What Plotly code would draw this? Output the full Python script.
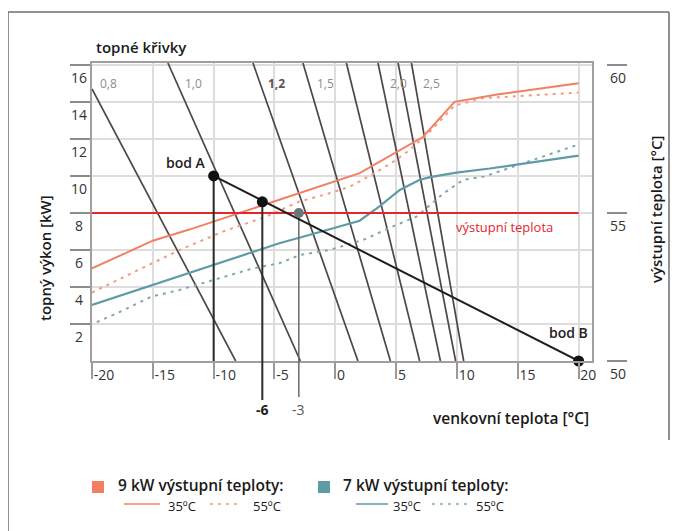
import plotly.graph_objects as go

# ---------------- data ----------------
x_ticks = [-20, -15, -10, -5, 0, 5, 10, 15, 20]
x_ticktext = ["-20", "-15", "-10", "-5", "0", "5", "10", "15", "20"]
y_ticks = [2, 4, 6, 8, 10, 12, 14, 16]
y2_ticks = [50, 55, 60]

# heating curves (topné křivky): straight lines from a top point to the x-axis
curve_labels = ["0,8", "1,0", "1,2", "1,5", "", "2,0", "", "2,5"]
curve_top_x = [-20.0, -13.76, -6.77, -2.66, 0.91, 3.51, 5.16, 6.26]
curve_top_y = [14.7, 16.1, 16.1, 16.1, 16.1, 16.1, 16.1, 16.1]
curve_bottom_x = [-8.19, -2.87, 1.86, 4.53, 6.93, 8.64, 9.89, 10.55]

# 9 kW, 35 °C (solid orange)
kw9_35_x = [-20, -15, -12, 2, 7.2, 9.8, 13.3, 20]
kw9_35_y = [5.0, 6.5, 7.1, 10.15, 12.1, 14.0, 14.4, 15.0]
# 9 kW, 55 °C (dotted orange)
kw9_55_x = [-20, -15, -12.8, -9.2, -5.7, -3, -0.5, 1.2, 3.1, 5.0, 6.1, 7.5, 9.8, 12.1, 20]
kw9_55_y = [3.7, 5.3, 6.0, 7.0, 7.8, 8.6, 9.06, 9.42, 10.1, 10.86, 11.4, 12.2, 13.8, 14.2, 14.5]
# 7 kW, 35 °C (solid blue)
kw7_35_x = [-20, -4.6, -0.46, 2.0, 3.6, 5.3, 6.9, 7.8, 9.95, 12.7, 20]
kw7_35_y = [3.03, 6.36, 7.12, 7.58, 8.34, 9.24, 9.78, 9.93, 10.18, 10.4, 11.1]
# 7 kW, 55 °C (dotted blue)
kw7_55_x = [-19.6, -17.7, -15.1, -12.8, -10, -6.8, -4.6, -2.9, -0.46, 2.28, 5.0, 6.67, 7.8, 8.9, 10.5, 12.2, 20]
kw7_55_y = [2.1, 2.66, 3.48, 3.84, 4.38, 5.0, 5.28, 5.73, 6.0, 6.54, 7.35, 7.8, 8.43, 9.06, 9.78, 9.96, 11.7]

# flow temperature line (výstupní teplota)
flow_x = [-20, 20]
flow_y = [8, 8]

# bod A -> bod B
bod_x = [-10, 20]
bod_y = [10.0, 0.0]
bod_names = ["bod A", "bod B"]

# operating points
op_x = [-6, -3]
op_y = [8.6, 8.0]
op_text = ["-6", "-3"]

# ---------------- styles ----------------
ORANGE = "#f37f62"
ORANGE_D = "#f59a82"
BLUE = "#5f9ba6"
BLUE_D = "#7fa7b0"
CURVE = "#4d4747"
RED = "#e5262b"
FONT = "Open Sans, Lato, sans-serif"
DOTS = "3px,5px"

OFF = 8               # page body margin of the html page
W, H = 670, 523
L, T = 92 - OFF, 63 - OFF
PW, PH = 528, 298
R = W - L - PW
B = H - T - PH


def px_x(px):
    # screen pixel -> paper x
    return (px - OFF - L) / PW


def px_y(py):
    # screen pixel -> paper y
    return (T + PH - (py - OFF)) / PH


fig = go.Figure()

# heating curves
for i in range(len(curve_labels)):
    fig.add_trace(go.Scatter(
        x=[curve_top_x[i], curve_bottom_x[i]], y=[curve_top_y[i], 0],
        mode="lines", line=dict(color=CURVE, width=1.7),
        showlegend=False, hoverinfo="skip"))

# power curves
fig.add_trace(go.Scatter(x=kw9_55_x, y=kw9_55_y, mode="lines",
                         line=dict(color=ORANGE_D, width=2, dash=DOTS), showlegend=False))
fig.add_trace(go.Scatter(x=kw7_55_x, y=kw7_55_y, mode="lines",
                         line=dict(color=BLUE_D, width=2, dash=DOTS), showlegend=False))
fig.add_trace(go.Scatter(x=kw9_35_x, y=kw9_35_y, mode="lines",
                         line=dict(color=ORANGE, width=2), showlegend=False))
fig.add_trace(go.Scatter(x=kw7_35_x, y=kw7_35_y, mode="lines",
                         line=dict(color=BLUE, width=2.2), showlegend=False))

# flow temperature line
fig.add_trace(go.Scatter(x=flow_x, y=flow_y, mode="lines",
                         line=dict(color=RED, width=2), showlegend=False))

# vertical drops (inside plot)
fig.add_trace(go.Scatter(x=[bod_x[0], bod_x[0]], y=[bod_y[0], 0], mode="lines",
                         line=dict(color="#2b2b2b", width=2), showlegend=False))
fig.add_trace(go.Scatter(x=[op_x[0], op_x[0]], y=[op_y[0], 0], mode="lines",
                         line=dict(color="#2b2b2b", width=2), showlegend=False))
fig.add_trace(go.Scatter(x=[op_x[1], op_x[1]], y=[op_y[1], 0], mode="lines",
                         line=dict(color="#6a6a6a", width=1.5), showlegend=False))

# bod A - bod B line
fig.add_trace(go.Scatter(x=bod_x, y=bod_y, mode="lines+markers",
                         line=dict(color="#1e1e1e", width=2),
                         marker=dict(color="#111", size=11),
                         cliponaxis=False, showlegend=False))
fig.add_trace(go.Scatter(x=[op_x[0]], y=[op_y[0]], mode="markers",
                         marker=dict(color="#111", size=11), showlegend=False))
fig.add_trace(go.Scatter(x=[op_x[1]], y=[op_y[1]], mode="markers",
                         marker=dict(color="#6b7676", size=10), showlegend=False))

# invisible trace on y2 so the right axis is drawn
fig.add_trace(go.Scatter(x=[flow_x[0]], y=[y2_ticks[0]], yaxis="y2", mode="markers",
                         marker=dict(opacity=0), showlegend=False, hoverinfo="skip"))

shapes = []
annotations = []


def note(**kw):
    kw.setdefault("showarrow", False)
    kw.setdefault("xanchor", "center")
    kw.setdefault("yanchor", "middle")
    annotations.append(kw)


# extensions of the operating lines below the axis
shapes.append(dict(type="line", xref="x", yref="paper", x0=op_x[0], x1=op_x[0],
                   y0=0, y1=px_y(400), line=dict(color="#2b2b2b", width=2)))
shapes.append(dict(type="line", xref="x", yref="paper", x0=op_x[1], x1=op_x[1],
                   y0=0, y1=px_y(397), line=dict(color="#6a6a6a", width=1.5)))
note(x=op_x[0], y=px_y(409), xref="x", yref="paper",
     text="<b>" + op_text[0] + "</b>", font=dict(size=14, color="#222"))
note(x=op_x[1], y=px_y(409), xref="x", yref="paper",
     text=op_text[1], font=dict(size=14, color="#555"))

# left tick labels (below tick lines)
for v in y_ticks:
    note(x=px_x(79), y=v, xref="paper", yref="y", yanchor="top", yshift=-1,
         text=str(v), font=dict(size=14, color="#333"))
# right tick labels
for v in y2_ticks:
    note(x=px_x(618), y=v, xref="paper", yref="y2", yanchor="top", yshift=-1,
         text=str(v), font=dict(size=14, color="#333"))

# heating curve labels
for i, lab in enumerate(curve_labels):
    if not lab:
        continue
    frac = (curve_top_y[i] - 15) / curve_top_y[i]
    xl = max(curve_top_x[i] + frac * (curve_bottom_x[i] - curve_top_x[i]), -20)
    bold = lab == "1,2"
    note(x=xl, y=15, xref="x", yref="y", xanchor="left", xshift=6,
         text=("<b>" + lab + "</b>") if bold else lab,
         font=dict(size=12, color="#555" if bold else "#8d8d8d"))

# bod labels
note(x=bod_x[0], y=bod_y[0], xref="x", yref="y", xanchor="right", yanchor="bottom",
     xshift=-6, yshift=2, text=bod_names[0], font=dict(size=14, color="#222", weight=600))
note(x=bod_x[1], y=bod_y[1], xref="x", yref="y", xanchor="right", yanchor="bottom",
     xshift=11, yshift=17, text=bod_names[1], font=dict(size=14, color="#222", weight=600))

# red label
note(x=13.9, y=7.25, xref="x", yref="y",
     text="výstupní teplota", font=dict(size=13, color=RED))

# titles
note(x=px_x(94), y=px_y(47), xref="paper", yref="paper", xanchor="left",
     text="topné křivky", font=dict(size=15, color="#1a1a1a", weight=600))
note(x=px_x(45), y=px_y(258), xref="paper", yref="paper", textangle=-90,
     text="topný výkon [kW]", font=dict(size=15, color="#1a1a1a", weight=600))
note(x=px_x(656), y=px_y(210), xref="paper", yref="paper", textangle=-90,
     text="výstupní teplota [°C]", font=dict(size=15, color="#1a1a1a", weight=600))
note(x=px_x(591), y=px_y(418), xref="paper", yref="paper", xanchor="right",
     text="venkovní teplota [°C]", font=dict(size=15.5, color="#1a1a1a", weight=600))

# custom legend
legend_groups = [
    dict(sq=(92, 104), color=ORANGE, dcolor=ORANGE_D, title="9 kW výstupní teploty:", tx=116,
         solid=(124, 160), t35=166, dot=(210, 242), t55=251),
    dict(sq=(318, 330), color=BLUE, dcolor=BLUE_D, title="7 kW výstupní teploty:", tx=341,
         solid=(356, 388), t35=391, dot=(432, 468), t55=474),
]
for g in legend_groups:
    shapes.append(dict(type="rect", xref="paper", yref="paper",
                       x0=px_x(g["sq"][0]), x1=px_x(g["sq"][1]), y0=px_y(493), y1=px_y(481),
                       fillcolor=g["color"], line=dict(width=0)))
    note(x=px_x(g["tx"]), y=px_y(485), xref="paper", yref="paper", xanchor="left",
         text=g["title"], font=dict(size=15.5, color="#1a1a1a", weight=600))
    shapes.append(dict(type="line", xref="paper", yref="paper",
                       x0=px_x(g["solid"][0]), x1=px_x(g["solid"][1]), y0=px_y(504), y1=px_y(504),
                       line=dict(color=g["color"], width=1.5)))
    note(x=px_x(g["t35"]), y=px_y(506), xref="paper", yref="paper", xanchor="left",
         text="35ºC", font=dict(size=13, color="#1a1a1a"))
    shapes.append(dict(type="line", xref="paper", yref="paper",
                       x0=px_x(g["dot"][0]), x1=px_x(g["dot"][1]), y0=px_y(504), y1=px_y(504),
                       line=dict(color=g["dcolor"], width=1.5, dash=DOTS)))
    note(x=px_x(g["t55"]), y=px_y(506), xref="paper", yref="paper", xanchor="left",
         text="55ºC", font=dict(size=13, color="#1a1a1a"))

# outer frame
for (x0, y0, x1, y1) in [(8, 12, 669, 12), (8, 12, 8, 531), (669, 12, 669, 440)]:
    shapes.append(dict(type="line", xref="paper", yref="paper",
                       x0=px_x(x0), x1=px_x(x1), y0=px_y(y0), y1=px_y(y1),
                       line=dict(color="#6e6e6e", width=1.5)))

fig.update_layout(
    width=W, height=H, autosize=False,
    margin=dict(l=L, r=R, t=T, b=B, pad=0),
    paper_bgcolor="white", plot_bgcolor="white",
    font=dict(family=FONT, size=14, color="#222"),
    showlegend=False,
    xaxis=dict(domain=[0, 500 / PW], range=[-20, 21.1],
               tickvals=x_ticks, ticktext=x_ticktext,
               ticks="outside", ticklen=16, tickwidth=1.5, tickcolor="#9a9a9a",
               ticklabelposition="outside right",
               tickfont=dict(size=14, color="#333"),
               showgrid=True, gridcolor="#dedcdc", gridwidth=1.5,
               showline=True, mirror=True, linecolor="#a39d9d", linewidth=2,
               zeroline=False),
    yaxis=dict(range=[0, 16.1], tickvals=y_ticks, showticklabels=False,
               ticks="outside", ticklen=20, tickwidth=1.5, tickcolor="#8c8c8c",
               showgrid=True, gridcolor="#dedcdc", gridwidth=1.5,
               showline=True, mirror=True, linecolor="#a39d9d", linewidth=2,
               zeroline=False),
    yaxis2=dict(range=[50, 50 + 16.1 * 10 / 16], overlaying="y", side="right",
                anchor="free", position=514 / PW,
                tickvals=y2_ticks, showticklabels=False,
                ticks="outside", ticklen=20, tickwidth=1.5, tickcolor="#8c8c8c",
                showgrid=False, showline=False, zeroline=False),
    shapes=shapes,
    annotations=annotations,
)

fig.write_html("out.html")
